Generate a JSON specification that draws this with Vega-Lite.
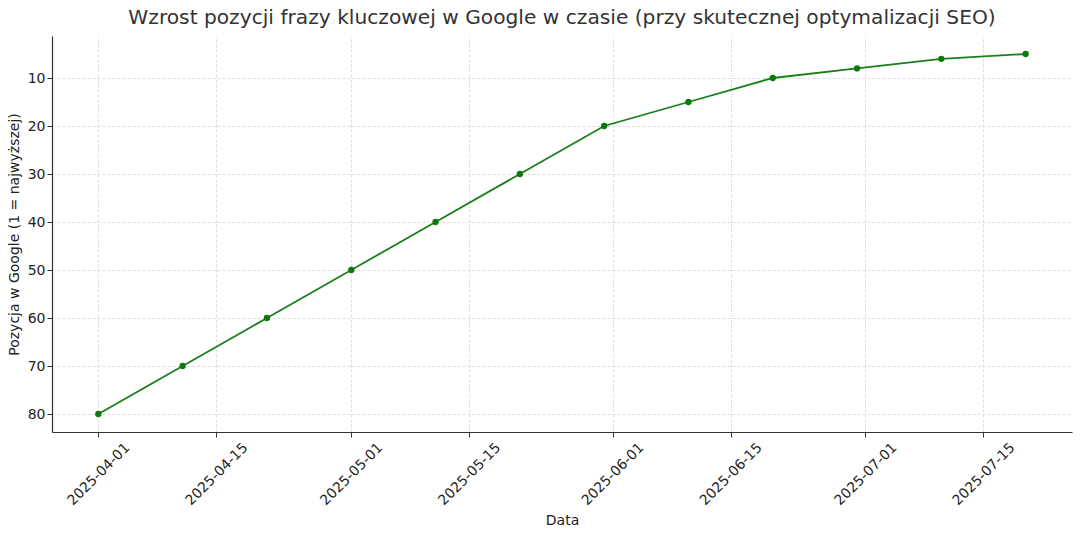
{
  "$schema": "https://vega.github.io/schema/vega-lite/v6.json",
  "width": 1020,
  "height": 396,
  "autosize": {"type": "none"},
  "padding": {"left": 52, "top": 36, "right": 8, "bottom": 108},
  "background": "white",
  "title": {
    "text": "Wzrost pozycji frazy kluczowej w Google w czasie (przy skutecznej optymalizacji SEO)",
    "font": "DejaVu Sans",
    "fontSize": 20.2,
    "fontWeight": "normal",
    "color": "#333333",
    "anchor": "middle",
    "offset": 8
  },
  "data": {
    "values": [
      {"date": "2025-04-01T00:00:00", "position": 80},
      {"date": "2025-04-11T00:00:00", "position": 70},
      {"date": "2025-04-21T00:00:00", "position": 60},
      {"date": "2025-05-01T00:00:00", "position": 50},
      {"date": "2025-05-11T00:00:00", "position": 40},
      {"date": "2025-05-21T00:00:00", "position": 30},
      {"date": "2025-05-31T00:00:00", "position": 20},
      {"date": "2025-06-10T00:00:00", "position": 15},
      {"date": "2025-06-20T00:00:00", "position": 10},
      {"date": "2025-06-30T00:00:00", "position": 8},
      {"date": "2025-07-10T00:00:00", "position": 6},
      {"date": "2025-07-20T00:00:00", "position": 5}
    ]
  },
  "encoding": {
    "x": {
      "field": "date",
      "type": "temporal",
      "title": "Data",
      "scale": {
        "domain": [
          {"year": 2025, "month": 3, "date": 26, "hours": 12},
          {"year": 2025, "month": 7, "date": 25, "hours": 12}
        ],
        "nice": false
      },
      "axis": {
        "values": [
          {"year": 2025, "month": 4, "date": 1},
          {"year": 2025, "month": 4, "date": 15},
          {"year": 2025, "month": 5, "date": 1},
          {"year": 2025, "month": 5, "date": 15},
          {"year": 2025, "month": 6, "date": 1},
          {"year": 2025, "month": 6, "date": 15},
          {"year": 2025, "month": 7, "date": 1},
          {"year": 2025, "month": 7, "date": 15}
        ],
        "format": "%Y-%m-%d",
        "labelAngle": -45,
        "labelAlign": "center",
        "labelBaseline": "middle",
        "labelPadding": 37,
        "titlePadding": 6
      }
    },
    "y": {
      "field": "position",
      "type": "quantitative",
      "title": "Pozycja w Google (1 = najwyższej)",
      "scale": {"domain": [1.25, 83.75], "reverse": true, "nice": false, "zero": false},
      "axis": {
        "values": [10, 20, 30, 40, 50, 60, 70, 80],
        "titlePadding": 6
      }
    }
  },
  "layer": [
    {
      "mark": {"type": "line", "color": "#1a7f1a", "strokeWidth": 1.8}
    },
    {
      "mark": {"type": "point", "filled": true, "color": "#0a7a0a", "opacity": 1, "size": 40}
    }
  ],
  "config": {
    "view": {"stroke": null},
    "axis": {
      "labelFont": "DejaVu Sans",
      "titleFont": "DejaVu Sans",
      "labelFontSize": 14,
      "titleFontSize": 14,
      "titleFontWeight": "normal",
      "labelColor": "#222222",
      "titleColor": "#222222",
      "domainColor": "#333333",
      "domainWidth": 1.2,
      "tickColor": "#333333",
      "tickSize": 5,
      "grid": true,
      "gridColor": "#d4d4d4",
      "gridDash": [3, 2],
      "gridWidth": 0.8
    }
  }
}
